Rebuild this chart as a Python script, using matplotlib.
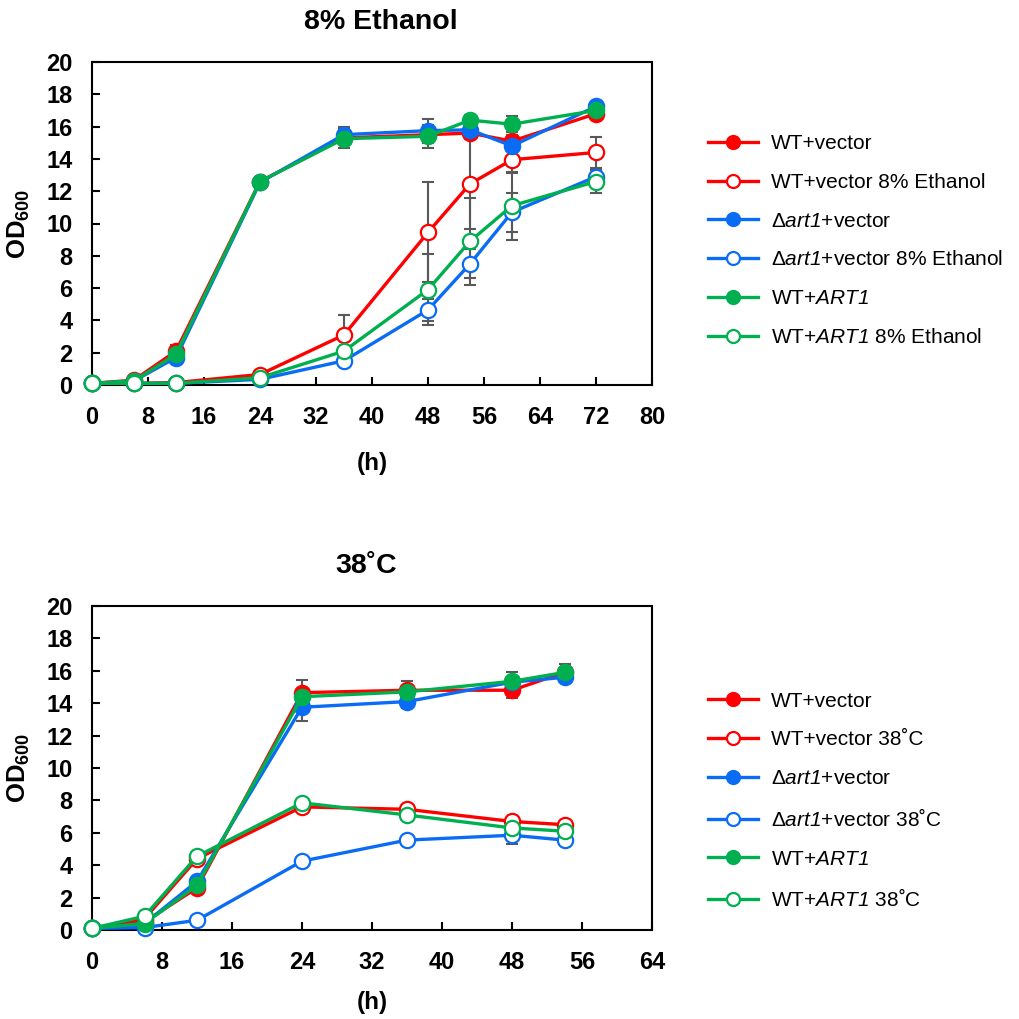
import matplotlib.pyplot as plt

plt.rcParams['font.family'] = ['Liberation Sans', 'DejaVu Sans']
plt.rcParams['mathtext.fontset'] = 'custom'
# digits in mathtext italic fall back to rm, so make rm italic too
plt.rcParams['mathtext.it'] = 'Liberation Sans:italic'
plt.rcParams['mathtext.rm'] = 'Liberation Sans:italic'
plt.rcParams['mathtext.bf'] = 'Liberation Sans:bold'

# 8% ethanol panel
hours_eth = [0, 6, 12, 24, 36, 48, 54, 60, 72]
wt_vec = [0.1, 0.3, 2.1, 12.6, 15.3, 15.5, 15.6, 15.1, 16.8]
wt_vec_eth = [0.1, 0.1, 0.15, 0.65, 3.1, 9.45, 12.45, 13.95, 14.4]
art1_vec = [0.1, 0.25, 1.7, 12.55, 15.5, 15.75, 15.8, 14.8, 17.25]
art1_vec_eth = [0.1, 0.1, 0.1, 0.35, 1.5, 4.65, 7.5, 10.7, 12.9]
wt_art1 = [0.1, 0.25, 1.9, 12.6, 15.25, 15.4, 16.4, 16.15, 17.0]
wt_art1_eth = [0.1, 0.1, 0.1, 0.45, 2.1, 5.9, 8.9, 11.1, 12.6]

wt_vec_err = [0, 0, 0.4, 0, 0.3, 0.5, 0.3, 0.4, 0.2]
wt_vec_eth_err = [0, 0, 0, 0, 1.25, 3.1, 2.8, 0.85, 0.95]
art1_vec_err = [0, 0, 0, 0, 0.5, 0.7, 0.3, 0.3, 0.2]
art1_vec_eth_err = [0, 0, 0, 0, 0, 0.7, 0.9, 1.2, 0.5]
wt_art1_err = [0, 0, 0, 0, 0.6, 0.7, 0.3, 0.5, 0.2]
wt_art1_eth_err = [0, 0, 0, 0, 0, 2.2, 2.7, 2.1, 0.7]

# 38C panel
hours_heat = [0, 6, 12, 24, 36, 48, 54]
h_wt_vec = [0.1, 0.5, 2.6, 14.65, 14.8, 14.8, 15.9]
h_wt_vec_38 = [0.1, 0.7, 4.4, 7.6, 7.45, 6.7, 6.5]
h_art1_vec = [0.1, 0.4, 3.0, 13.75, 14.1, 15.3, 15.6]
h_art1_vec_38 = [0.1, 0.15, 0.6, 4.25, 5.55, 5.85, 5.55]
h_wt_art1 = [0.1, 0.4, 2.75, 14.4, 14.7, 15.35, 15.9]
h_wt_art1_38 = [0.1, 0.85, 4.55, 7.85, 7.1, 6.3, 6.1]

h_wt_vec_err = [0, 0, 0, 0.8, 0, 0.45, 0]
h_wt_vec_38_err = [0, 0, 0, 0, 0, 0, 0]
h_art1_vec_err = [0, 0, 0, 0.85, 0.4, 0, 0.3]
h_art1_vec_38_err = [0, 0, 0, 0, 0, 0.55, 0]
h_wt_art1_err = [0, 0, 0, 0, 0.7, 0.6, 0.5]
h_wt_art1_38_err = [0, 0, 0, 0, 0, 0, 0]

red = '#FF0000'
blue = '#0A6CF5'
green = '#00B050'
err_col = '#595959'

fig = plt.figure(figsize=(10.19, 10.19), dpi=100)
ax1 = fig.add_axes([92/1019, 1-385/1019, 560/1019, 323/1019])
ax2 = fig.add_axes([92/1019, 1-930/1019, 560/1019, 324/1019])


def draw_panel(ax, x, series, xmax, title, xlabpad, title_x):
    for y, err, col, filled, lab in series:
        ax.errorbar(x, y, yerr=err, fmt='none', ecolor=err_col, elinewidth=1.5,
                    capsize=4, capthick=1.5, zorder=1)
    for y, err, col, filled, lab in series:
        ax.plot(x, y, color=col, lw=2.4, marker='o', ms=11,
                mfc=col if filled else 'white', mec=col, mew=1.6,
                label=lab, zorder=3, clip_on=False)
    ax.set_xlim(0, xmax)
    ax.set_ylim(0, 20)
    ax.set_xticks(range(0, xmax + 1, 8))
    ax.set_yticks(range(0, 21, 2))
    ax.tick_params(direction='in', length=6, width=1.5, top=False, right=False,
                   labelsize=17)
    ax.tick_params(axis='x', pad=15)
    ax.tick_params(axis='y', pad=14)
    for lbl in ax.get_xticklabels() + ax.get_yticklabels():
        lbl.set_fontweight('bold')
    for s in ax.spines.values():
        s.set_linewidth(1.5)
    ax.set_xlabel('(h)', fontsize=17.5, fontweight='bold', labelpad=xlabpad)
    ax.set_ylabel(r'$\mathbf{OD_{600}}$', fontsize=18.5, labelpad=10)
    ax.set_title(title, fontsize=20.5, fontweight='bold', pad=24, x=title_x)


labels = ['WT+vector', 'WT+vector {c}', r'Δ$\mathit{art1}$+vector',
          r'Δ$\mathit{art1}$+vector {c}', r'WT+$\mathit{ART1}$', r'WT+$\mathit{ART1}$ {c}']

eth_labels = [l.replace('{c}', '8% Ethanol') for l in labels]
heat_labels = [l.replace('{c}', '38˚C') for l in labels]

draw_panel(ax1, hours_eth, [
    (wt_vec, wt_vec_err, red, True, eth_labels[0]),
    (wt_vec_eth, wt_vec_eth_err, red, False, eth_labels[1]),
    (art1_vec, art1_vec_err, blue, True, eth_labels[2]),
    (art1_vec_eth, art1_vec_eth_err, blue, False, eth_labels[3]),
    (wt_art1, wt_art1_err, green, True, eth_labels[4]),
    (wt_art1_eth, wt_art1_eth_err, green, False, eth_labels[5]),
], 80, '8% Ethanol', 17, 0.515)

draw_panel(ax2, hours_heat, [
    (h_wt_vec, h_wt_vec_err, red, True, heat_labels[0]),
    (h_wt_vec_38, h_wt_vec_38_err, red, False, heat_labels[1]),
    (h_art1_vec, h_art1_vec_err, blue, True, heat_labels[2]),
    (h_art1_vec_38, h_art1_vec_38_err, blue, False, heat_labels[3]),
    (h_wt_art1, h_wt_art1_err, green, True, heat_labels[4]),
    (h_wt_art1_38, h_wt_art1_38_err, green, False, heat_labels[5]),
], 64, '38˚C', 12, 0.49)

for ax, yc in [(ax1, 1-240.5/1019), (ax2, 1-801/1019)]:
    ax.legend(loc='center left', bbox_to_anchor=(698/1019, yc),
              bbox_transform=fig.transFigure, frameon=False, fontsize=15,
              handlelength=2.4, handletextpad=0.6, labelspacing=0.95,
              borderpad=0, markerscale=0.85)

fig.savefig('out.png', dpi=100)
